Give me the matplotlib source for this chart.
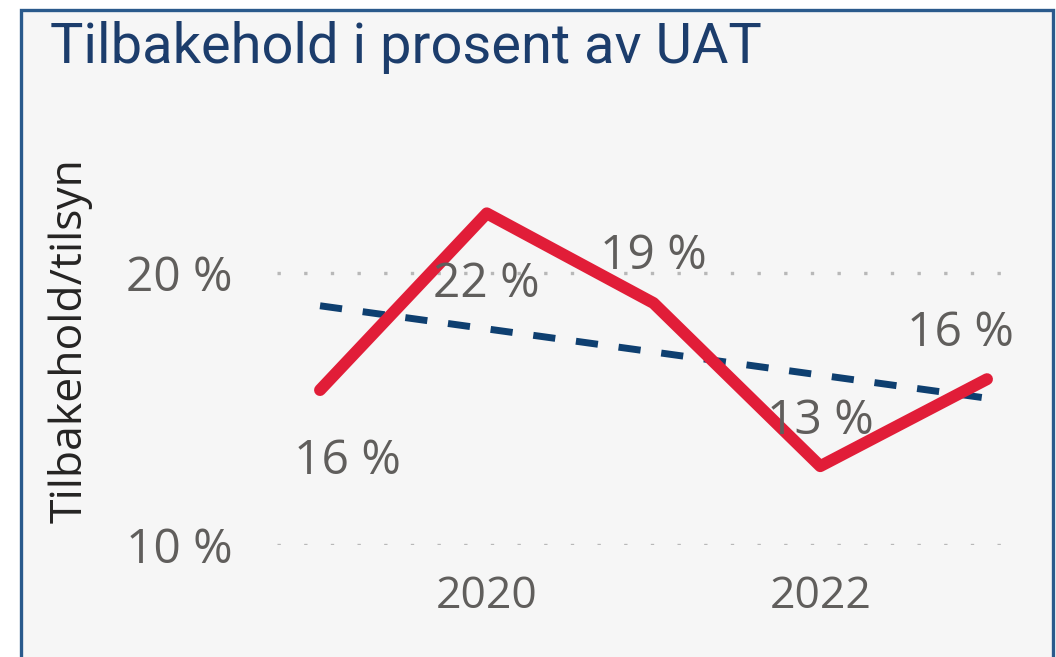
import matplotlib
matplotlib.use("Agg")
import matplotlib.pyplot as plt
from matplotlib.patches import Rectangle

# ---- data ----
years = [2019, 2020, 2021, 2022, 2023]
values = [15.7, 22.2, 18.9, 12.9, 16.1]
value_labels = ["16 %", "22 %", "19 %", "13 %", "16 %"]
trend_years = [2019, 2023]
trend_values = [18.8, 15.4]
ytick_values = [10, 20]
ytick_labels = ["10 %", "20 %"]
xtick_values = [2020, 2022]
xtick_labels = ["2020", "2022"]
title = "Tilbakehold i prosent av UAT"
ylabel = "Tilbakehold/tilsyn"

W, H = 1056, 657
fig = plt.figure(figsize=(W / 100, H / 100), dpi=100, facecolor="white")

# card background + border
card = Rectangle((21 / W, -0.05), (1053 - 21) / W, (H - 10) / H + 0.05,
                 transform=fig.transFigure, facecolor="#f6f6f6",
                 edgecolor="#2a5a8c", linewidth=2.4, zorder=-5)
fig.patches.append(card)

ax_left, ax_right = 277 / W, 1010 / W
ax_bottom, ax_top = (H - 545) / H, (H - 178) / H
ax = fig.add_axes([ax_left, ax_bottom, ax_right - ax_left, ax_top - ax_bottom])
ax.set_zorder(2)
ax.set_facecolor("none")
ax.set_xlim(2018.742, 2023.138)
ax.set_ylim(10, 23.5)
for s in ax.spines.values():
    s.set_visible(False)

ax.set_yticks(ytick_values)
ax.set_yticklabels(ytick_labels)
ax.set_xticks(xtick_values)
ax.set_xticklabels(xtick_labels)
ax.tick_params(axis="both", length=0, labelcolor="#605e5c", labelsize=34.5)
ax.tick_params(axis="x", labelsize=32)
ax.tick_params(axis="y", pad=32)
ax.tick_params(axis="x", pad=21)
for lab in ax.get_xticklabels() + ax.get_yticklabels():
    lab.set_fontfamily("Open Sans")

for yv in ytick_values:
    ax.axhline(yv, color="#b8b8b8", linewidth=2.4, linestyle=(0, (1, 7)), zorder=1)

ax.plot(years, values, color="#e11d38", linewidth=8.6, solid_capstyle="round",
        solid_joinstyle="round", zorder=3, clip_on=False)
ax.plot(trend_years, trend_values, color="#0e3f70", linewidth=5,
        dashes=(3.2, 3.0), dash_capstyle="butt", zorder=2)

offsets = [(20, -60.5), (0, -60), (0, 24.5), (0, 23), (-19.4, 24)]
for x, y, t, (dx, dy) in zip(years, values, value_labels, offsets):
    ax.annotate(t, (x, y), xytext=(dx, dy), textcoords="offset points",
                ha="center", va="baseline", fontsize=34.5, color="#605e5c",
                fontfamily="Open Sans", zorder=4)

fig.text(50 / W, (H - 63) / H, title, ha="left", va="baseline",
         fontsize=40.3, color="#1c3d6c", fontfamily="Roboto")
fig.text(70 / W, (H - 341) / H, ylabel, rotation=90, ha="center", va="center",
         fontsize=32, color="#252423", fontfamily="Open Sans")

fig.savefig("out.png", dpi=100, facecolor="white")
